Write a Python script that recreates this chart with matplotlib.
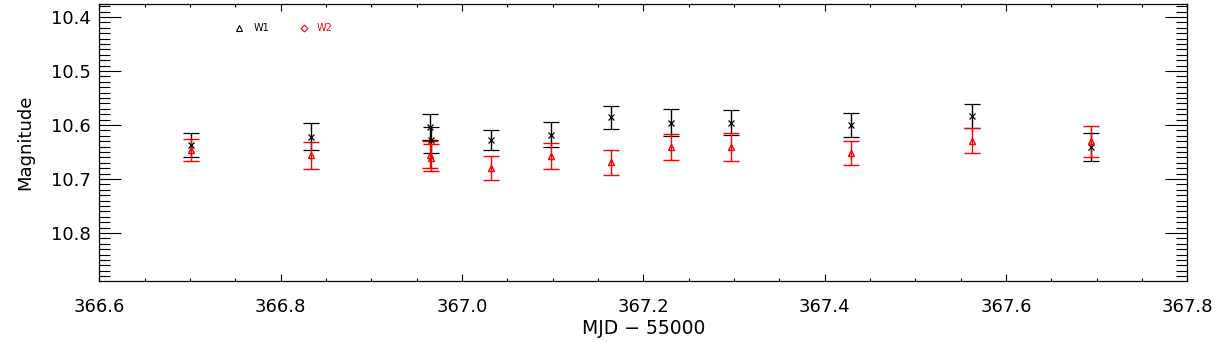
import matplotlib
matplotlib.use("Agg")
import matplotlib.pyplot as plt
import numpy as np
from matplotlib.ticker import MultipleLocator, FormatStrFormatter

# WISE light curve, MJD - 55000
mjd = [366.701, 366.833, 366.965, 366.966, 367.032, 367.098,
       367.164, 367.231, 367.297, 367.429, 367.562, 367.694]
w1 = [10.637, 10.622, 10.603, 10.627, 10.628, 10.618,
      10.586, 10.596, 10.596, 10.600, 10.584, 10.640]
w1_err = [0.023, 0.025, 0.024, 0.024, 0.018, 0.023,
          0.021, 0.025, 0.023, 0.022, 0.022, 0.026]
w2 = [10.646, 10.656, 10.655, 10.661, 10.680, 10.657,
      10.669, 10.640, 10.640, 10.652, 10.629, 10.630]
w2_err = [0.020, 0.025, 0.025, 0.025, 0.022, 0.024,
          0.023, 0.024, 0.026, 0.023, 0.023, 0.029]

plt.rcParams['font.family'] = ['DejaVu Sans']

fig = plt.figure(figsize=(12.23, 3.53), dpi=100)
ax = fig.add_axes([99.3 / 1223, 1 - 281 / 353, 1088 / 1223, 276.7 / 353])

ax.errorbar(mjd, w1, yerr=w1_err, fmt='x', color='black', ms=5, mew=0.9,
            elinewidth=1.0, capsize=5.5, capthick=1.0)
ax.errorbar(mjd, w2, yerr=w2_err, fmt='^', color='red', mfc='none', ms=4.5,
            mew=1.0, elinewidth=1.0, capsize=5.5, capthick=1.0)

# legend drawn like the IDL one
ax.plot([0.1286], [0.913], marker='^', mfc='none', mec='black', ms=4,
        mew=0.8, transform=ax.transAxes, clip_on=False)
ax.text(0.1415, 0.913, 'W1', fontsize=7, color='black', va='center',
        transform=ax.transAxes)
ax.plot([0.1882], [0.913], marker='D', mfc='none', mec='red', ms=3.5,
        mew=0.8, transform=ax.transAxes, clip_on=False)
ax.text(0.1995, 0.913, 'W2', fontsize=7, color='red', va='center',
        transform=ax.transAxes)

ax.set_xlim(366.6, 367.8)
ax.set_ylim(10.889, 10.3765)

ax.xaxis.set_major_locator(MultipleLocator(0.2))
ax.xaxis.set_minor_locator(MultipleLocator(0.05))
ax.yaxis.set_major_locator(MultipleLocator(0.1))
ax.yaxis.set_minor_locator(MultipleLocator(0.01))
ax.xaxis.set_major_formatter(FormatStrFormatter('%.1f'))
ax.yaxis.set_major_formatter(FormatStrFormatter('%.1f'))

ax.tick_params(axis='both', which='both', direction='in', top=True,
               right=True, width=0.8, labelsize=13)
ax.tick_params(axis='x', which='major', length=5, pad=12)
ax.tick_params(axis='x', which='minor', length=2.5)
ax.tick_params(axis='y', which='major', length=16, pad=6)
ax.tick_params(axis='y', which='minor', length=8)
for s in ax.spines.values():
    s.set_linewidth(0.9)

ax.set_xlabel('MJD \u2212 55000', fontsize=13.5, va='center')
ax.xaxis.set_label_coords(0.5, -0.170)
ax.set_ylabel('Magnitude', fontsize=13, va='center')
ax.yaxis.set_label_coords(-0.0683, 0.5)

fig.savefig('out.png', dpi=100)
